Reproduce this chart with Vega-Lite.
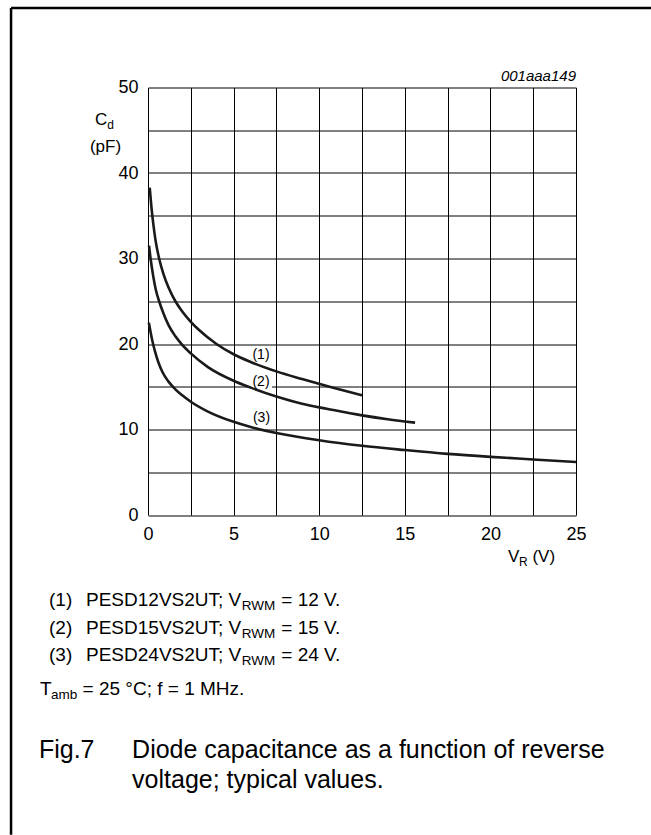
{
  "$schema": "https://vega.github.io/schema/vega-lite/v6.json",
  "description": "Diode capacitance as a function of reverse voltage; typical values",
  "width": 428,
  "height": 427.5,
  "autosize": "none",
  "padding": {"left": 148, "top": 87.5, "right": 75, "bottom": 320},
  "background": "white",
  "layer": [
    {
      "data": {"values": [{}]},
      "mark": {"type": "point", "shape": "square", "size": 484, "filled": true, "color": "white", "opacity": 1},
      "encoding": {"x": {"datum": 6.6}, "y": {"datum": 15.56}}
    },
    {
      "data": {
        "values": [
          {"curve": "1", "V": 0.1, "C": 38.3},
          {"curve": "1", "V": 0.2, "C": 36.0},
          {"curve": "1", "V": 0.3, "C": 34.2},
          {"curve": "1", "V": 0.45, "C": 32.0},
          {"curve": "1", "V": 0.65, "C": 30.0},
          {"curve": "1", "V": 0.9, "C": 28.2},
          {"curve": "1", "V": 1.2, "C": 26.6},
          {"curve": "1", "V": 1.6, "C": 25.0},
          {"curve": "1", "V": 2.0, "C": 23.8},
          {"curve": "1", "V": 2.5, "C": 22.6},
          {"curve": "1", "V": 3.0, "C": 21.6},
          {"curve": "1", "V": 4.0, "C": 20.0},
          {"curve": "1", "V": 5.0, "C": 18.8},
          {"curve": "1", "V": 6.0, "C": 17.9},
          {"curve": "1", "V": 7.5, "C": 16.8},
          {"curve": "1", "V": 9.0, "C": 15.9},
          {"curve": "1", "V": 10.5, "C": 15.05},
          {"curve": "1", "V": 12.5, "C": 14.0},
          {"curve": "2", "V": 0.06, "C": 31.5},
          {"curve": "2", "V": 0.15, "C": 30.0},
          {"curve": "2", "V": 0.3, "C": 28.0},
          {"curve": "2", "V": 0.45, "C": 26.4},
          {"curve": "2", "V": 0.65, "C": 25.0},
          {"curve": "2", "V": 0.9, "C": 23.6},
          {"curve": "2", "V": 1.2, "C": 22.2},
          {"curve": "2", "V": 1.6, "C": 20.9},
          {"curve": "2", "V": 2.0, "C": 19.9},
          {"curve": "2", "V": 2.5, "C": 18.9},
          {"curve": "2", "V": 3.5, "C": 17.3},
          {"curve": "2", "V": 5.0, "C": 15.7},
          {"curve": "2", "V": 6.0, "C": 14.9},
          {"curve": "2", "V": 7.5, "C": 13.85},
          {"curve": "2", "V": 9.0, "C": 13.0},
          {"curve": "2", "V": 10.5, "C": 12.4},
          {"curve": "2", "V": 12.5, "C": 11.65},
          {"curve": "2", "V": 14.0, "C": 11.2},
          {"curve": "2", "V": 15.6, "C": 10.8},
          {"curve": "3", "V": 0.05, "C": 22.5},
          {"curve": "3", "V": 0.15, "C": 21.4},
          {"curve": "3", "V": 0.25, "C": 20.4},
          {"curve": "3", "V": 0.4, "C": 19.2},
          {"curve": "3", "V": 0.6, "C": 17.9},
          {"curve": "3", "V": 0.85, "C": 16.7},
          {"curve": "3", "V": 1.2, "C": 15.6},
          {"curve": "3", "V": 1.6, "C": 14.7},
          {"curve": "3", "V": 2.0, "C": 14.0},
          {"curve": "3", "V": 2.5, "C": 13.25},
          {"curve": "3", "V": 3.5, "C": 12.1},
          {"curve": "3", "V": 5.0, "C": 10.9},
          {"curve": "3", "V": 6.0, "C": 10.3},
          {"curve": "3", "V": 7.5, "C": 9.6},
          {"curve": "3", "V": 10.0, "C": 8.75},
          {"curve": "3", "V": 12.5, "C": 8.1},
          {"curve": "3", "V": 15.0, "C": 7.6},
          {"curve": "3", "V": 17.5, "C": 7.15},
          {"curve": "3", "V": 20.0, "C": 6.8},
          {"curve": "3", "V": 22.5, "C": 6.5},
          {"curve": "3", "V": 25.0, "C": 6.2}
        ]
      },
      "mark": {"type": "line", "interpolate": "monotone", "color": "#1a1a1a", "strokeWidth": 2.6},
      "encoding": {
        "x": {
          "field": "V",
          "type": "quantitative",
          "scale": {"domain": [0, 25], "nice": false, "zero": false},
          "axis": {
            "values": [0, 2.5, 5, 7.5, 10, 12.5, 15, 17.5, 20, 22.5, 25],
            "labelExpr": "datum.value % 5 === 0 ? datum.label : ''",
            "title": null
          }
        },
        "y": {
          "field": "C",
          "type": "quantitative",
          "scale": {"domain": [0, 50], "nice": false, "zero": false},
          "axis": {
            "values": [0, 5, 10, 15, 20, 25, 30, 35, 40, 45, 50],
            "labelExpr": "datum.value % 10 === 0 ? datum.label : ''",
            "title": null
          }
        },
        "detail": {"field": "curve"}
      }
    },
    {
      "data": {"values": [{}]},
      "mark": {"type": "text", "text": "(1)", "fontSize": 14, "align": "center", "baseline": "middle"},
      "encoding": {"x": {"datum": 6.6}, "y": {"datum": 18.77}}
    },
    {
      "data": {"values": [{}]},
      "mark": {"type": "text", "text": "(2)", "fontSize": 14, "align": "center", "baseline": "middle"},
      "encoding": {"x": {"datum": 6.6}, "y": {"datum": 15.56}}
    },
    {
      "data": {"values": [{}]},
      "mark": {"type": "text", "text": "(3)", "fontSize": 14, "align": "center", "baseline": "middle"},
      "encoding": {"x": {"datum": 6.63}, "y": {"datum": 11.29}}
    },
    {
      "data": {"values": [{}]},
      "mark": {"type": "text", "text": "001aaa149", "fontSize": 15, "fontStyle": "italic", "align": "right"},
      "encoding": {"x": {"datum": 25}, "y": {"datum": 50.76}}
    },
    {
      "data": {"values": [{}]},
      "mark": {"type": "text", "text": "C", "fontSize": 17, "align": "left"},
      "encoding": {"x": {"datum": -3.1}, "y": {"datum": 45.61}}
    },
    {
      "data": {"values": [{}]},
      "mark": {"type": "text", "text": "d", "fontSize": 12, "align": "left", "dx": 12.3, "dy": 4},
      "encoding": {"x": {"datum": -3.1}, "y": {"datum": 45.61}}
    },
    {
      "data": {"values": [{}]},
      "mark": {"type": "text", "text": "(pF)", "fontSize": 17, "align": "left"},
      "encoding": {"x": {"datum": -3.39}, "y": {"datum": 42.46}}
    },
    {
      "data": {"values": [{}]},
      "mark": {"type": "text", "text": "V", "fontSize": 17, "align": "left"},
      "encoding": {"x": {"datum": 21.03}, "y": {"datum": -5.5}}
    },
    {
      "data": {"values": [{}]},
      "mark": {"type": "text", "text": "R", "fontSize": 12, "align": "left", "dx": 11.0, "dy": 4},
      "encoding": {"x": {"datum": 21.03}, "y": {"datum": -5.5}}
    },
    {
      "data": {"values": [{}]},
      "mark": {"type": "text", "text": "(V)", "fontSize": 17, "align": "left", "dx": 24.4},
      "encoding": {"x": {"datum": 21.03}, "y": {"datum": -5.5}}
    },
    {
      "data": {
        "values": [
          {"n": "(1)", "p": "PESD12VS2UT; V", "v": "= 12 V.", "y": -10.64},
          {"n": "(2)", "p": "PESD15VS2UT; V", "v": "= 15 V.", "y": -13.86},
          {"n": "(3)", "p": "PESD24VS2UT; V", "v": "= 24 V.", "y": -17.08}
        ]
      },
      "encoding": {"y": {"field": "y", "type": "quantitative"}},
      "layer": [
        {
          "mark": {"type": "text", "fontSize": 19, "align": "left"},
          "encoding": {"x": {"datum": -5.78}, "text": {"field": "n"}}
        },
        {
          "mark": {"type": "text", "fontSize": 19, "align": "left"},
          "encoding": {"x": {"datum": -3.62}, "text": {"field": "p"}}
        },
        {
          "mark": {"type": "text", "fontSize": 13.5, "align": "left", "dx": 155.8, "dy": 4, "text": "RWM"},
          "encoding": {"x": {"datum": -3.62}}
        },
        {
          "mark": {"type": "text", "fontSize": 19, "align": "left", "dx": 195.3},
          "encoding": {"x": {"datum": -3.62}, "text": {"field": "v"}}
        }
      ]
    },
    {
      "data": {"values": [{}]},
      "mark": {"type": "text", "text": "T", "fontSize": 19, "align": "left"},
      "encoding": {"x": {"datum": -6.31}, "y": {"datum": -21.05}}
    },
    {
      "data": {"values": [{}]},
      "mark": {"type": "text", "text": "amb", "fontSize": 13.5, "align": "left", "dx": 11.0, "dy": 4},
      "encoding": {"x": {"datum": -6.31}, "y": {"datum": -21.05}}
    },
    {
      "data": {"values": [{}]},
      "mark": {"type": "text", "text": "= 25 °C; f = 1 MHz.", "fontSize": 19, "align": "left", "dx": 42.6},
      "encoding": {"x": {"datum": -6.31}, "y": {"datum": -21.05}}
    },
    {
      "data": {"values": [{}]},
      "mark": {"type": "text", "text": "Fig.7", "fontSize": 25, "align": "left"},
      "encoding": {"x": {"datum": -6.37}, "y": {"datum": -28.42}}
    },
    {
      "data": {"values": [{}]},
      "mark": {"type": "text", "text": "Diode capacitance as a function of reverse", "fontSize": 25, "align": "left"},
      "encoding": {"x": {"datum": -0.93}, "y": {"datum": -28.42}}
    },
    {
      "data": {"values": [{}]},
      "mark": {"type": "text", "text": "voltage; typical values.", "fontSize": 25, "align": "left"},
      "encoding": {"x": {"datum": -0.93}, "y": {"datum": -31.93}}
    },
    {
      "data": {"values": [{}]},
      "mark": {"type": "rule", "color": "black", "strokeWidth": 2.5},
      "encoding": {"x": {"datum": -8.0}, "y": {"datum": 59.3}, "y2": {"datum": -37.4}}
    },
    {
      "data": {"values": [{}]},
      "mark": {"type": "rule", "color": "black", "strokeWidth": 2.5},
      "encoding": {"x": {"datum": -8.0}, "x2": {"datum": 29.4}, "y": {"datum": 59.3}}
    }
  ],
  "config": {
    "view": {"stroke": null},
    "font": "Liberation Sans",
    "text": {"font": "Liberation Sans", "color": "black", "baseline": "alphabetic"},
    "axis": {
      "grid": true,
      "gridColor": "black",
      "gridOpacity": 1,
      "gridWidth": 1,
      "domain": false,
      "ticks": false,
      "labelFont": "Liberation Sans",
      "labelFontSize": 18,
      "labelColor": "black",
      "labelPadding": 10,
      "labelFlush": false,
      "labelOverlap": false
    }
  }
}
